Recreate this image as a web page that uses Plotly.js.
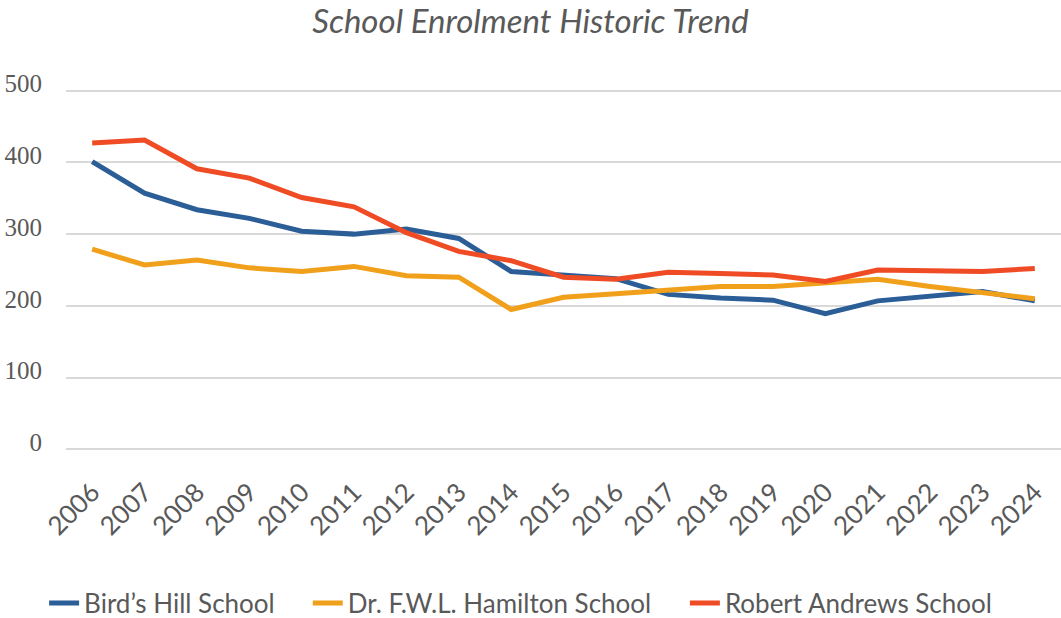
<!DOCTYPE html>
<html>
<head>
<meta charset="utf-8">
<script src="https://cdn.plot.ly/plotly-3.0.1.min.js"></script>
<style>html,body{margin:0;padding:0;background:#fff;}#chart{width:1061px;height:618px;}</style>
</head>
<body>
<div id="chart"></div>
<script>
const years = ["2006","2007","2008","2009","2010","2011","2012","2013","2014","2015","2016","2017","2018","2019","2020","2021","2022","2023","2024"];
const birdsHill = [401,357,334,322,304,300,307,294,248,243,238,216,211,208,189,207,213,220,207];
const hamilton = [279,257,264,253,248,255,242,240,195,212,217,222,227,227,232,237,227,219,210];
const robertAndrews = [427,431,391,378,351,338,302,276,263,240,237,247,245,243,234,250,249,248,252];
const seriesNames = ["Bird\u2019s Hill School","Dr. F.W.L. Hamilton School","Robert Andrews School"];
const colors = ["#2B5D97","#F0A01B","#EF4B24"];
const legendIds = ["legend","legend2","legend3"];
const legendX = [-0.022, 0.243, 0.622];

const data = [birdsHill, hamilton, robertAndrews].map((vals, i) => ({
  type: "scatter",
  mode: "lines",
  x: years,
  y: vals,
  name: seriesNames[i],
  legend: legendIds[i],
  line: {color: colors[i], width: 5, shape: "linear"},
  hoverinfo: "x+y+name"
}));

const legendFont = {family: "Lato, 'Open Sans', sans-serif", size: 26, color: "#595959"};
function makeLegend(x) {
  return {
    orientation: "h",
    x: x, xanchor: "left", xref: "paper",
    y: 0.024, yanchor: "middle", yref: "container",
    font: legendFont,
    itemwidth: 30,
    bgcolor: "rgba(0,0,0,0)"
  };
}

const layout = {
  width: 1061,
  height: 618,
  margin: {l: 66, r: 0, t: 87, b: 165},
  paper_bgcolor: "#ffffff",
  plot_bgcolor: "#ffffff",
  title: {
    text: "<i>School Enrolment Historic Trend</i>",
    font: {family: "Lato, 'Open Sans', sans-serif", size: 33, color: "#595959"},
    x: 0.5, xanchor: "center",
    y: 0.966, yanchor: "middle", yref: "container"
  },
  xaxis: {
    type: "category",
    range: [-0.5, 18.5],
    automargin: false,
    tickangle: -45,
    showgrid: false,
    zeroline: false,
    showline: false,
    ticks: "",
    ticklabelstandoff: 18,
    tickfont: {family: "Lato, 'Open Sans', sans-serif", size: 26, color: "#595959"}
  },
  yaxis: {
    range: [-5, 505],
    automargin: false,
    tickvals: [0,100,200,300,400,500],
    showgrid: true,
    gridcolor: "#D9D9D9",
    gridwidth: 2,
    zeroline: false,
    showline: false,
    ticks: "outside",
    ticklen: 18,
    tickcolor: "rgba(0,0,0,0)",
    ticklabelshift: -7,
    tickfont: {family: "'Liberation Serif', 'DejaVu Serif', serif", size: 25, color: "#595959"}
  },
  legend: makeLegend(legendX[0]),
  legend2: makeLegend(legendX[1]),
  legend3: makeLegend(legendX[2]),
  showlegend: true
};

Plotly.newPlot("chart", data, layout, {displayModeBar: false, staticPlot: true});
</script>
</body>
</html>
